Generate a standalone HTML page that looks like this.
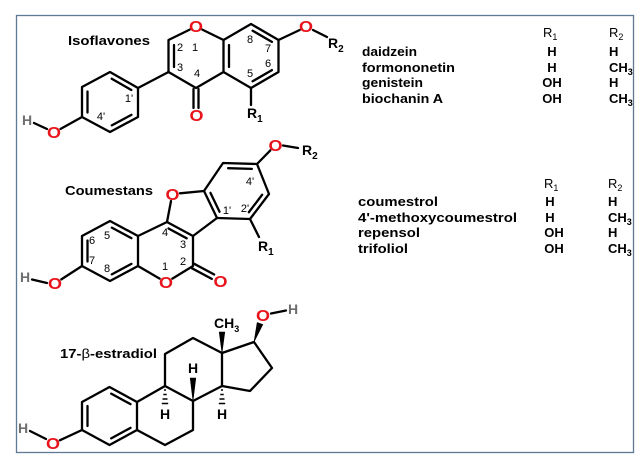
<!DOCTYPE html>
<html><head><meta charset="utf-8"><style>
html,body{margin:0;padding:0;background:#fff;}
svg{display:block;}
text{font-family:"Liberation Sans",Arial,sans-serif;}
.b{font-weight:bold;font-size:13px;}
.n{font-size:11px;text-anchor:middle;}
.O{fill:#e8141b;font-weight:bold;font-size:16px;text-anchor:middle;}
.A{font-weight:bold;font-size:14px;}
.Hg{fill:#6e6e6e;font-weight:bold;font-size:14px;text-anchor:middle;}
.Hs{font-weight:bold;font-size:14px;text-anchor:middle;}
</style></head><body>
<svg width="641" height="463" viewBox="0 0 641 463" xmlns="http://www.w3.org/2000/svg">
<rect width="641" height="463" fill="#fff"/>
<rect x="16.5" y="15.5" width="617" height="437" fill="none" stroke="#5f7a94" stroke-width="1.3"/>

<g stroke="#000" stroke-width="2.3" fill="none" stroke-linecap="round" stroke-linejoin="round">
<!-- Isoflavone -->
<path d="M189.7,29.6 L168.5,40 L168.5,72 L196,88 L223.5,72 L223.5,40 L202.3,29.6"/>
<path d="M168.5,72 L138,88"/>
<path d="M223.5,40 L251,24 L278.5,40 L278.5,72 L251,88 L223.5,72"/>
<path d="M174,45 L174,67"/>
<path d="M229,45 L229,67"/>
<path d="M252.6,30.7 L271.9,41.9"/>
<path d="M271.9,70.1 L252.6,81.3"/>
<path d="M278.5,40 L299.7,30"/>
<path d="M313,30 L327,37"/>
<path d="M193.5,89 L193.5,108 M198.5,89 L198.5,108"/>
<path d="M251,88 L251,105"/>
<path d="M110,72 L138,88 L138,117 L110,132 L82,117 L82,87 Z"/>
<path d="M111.7,78.75 L131.3,89.95"/>
<path d="M87.5,91.5 L87.5,112.5"/>
<path d="M131.4,114.85 L111.8,125.35"/>
<path d="M82,117 L60.6,128.9"/>
<path d="M34,123 L47,129"/>

<!-- Coumestan -->
<path d="M180,193.3 L204,191"/>
<path d="M171,201 L167,222"/>
<path d="M167,222 L193,236 L217,218 L204,191"/>
<path d="M193,236 L193,266 L172.4,278.6"/>
<path d="M159.6,278.6 L138,266 L138,236 L167,222"/>
<path d="M138,236 L110,221 L82,236 L82,266 L110,281 L138,266"/>
<path d="M82,266 L61.3,279.4"/>
<path d="M32,279.5 L47,283"/>
<path d="M204,191 L223,163 L257,164 L269,194 L250,219 L217,218"/>
<path d="M257,164 L270.3,150.4"/>
<path d="M283,145.5 L298,148"/>
<path d="M250,219 L259,237"/>
<path d="M168.5,228.5 L186.7,238.3"/>
<path d="M210.45,192.85 L219.55,211.75"/>
<path d="M228.1,168.2 L251.9,168.9"/>
<path d="M262.15,194.75 L248.85,212.25"/>
<path d="M111.8,227.65 L131.4,238.15"/>
<path d="M87.5,240.5 L87.5,261.5"/>
<path d="M111.8,274.35 L131.4,263.85"/>
<path d="M194.2,263.8 L214.2,274.5 M191.8,268.2 L211.8,278.9"/>

<!-- Estradiol -->
<path d="M109.5,387 L137,402 L137,430 L109.5,445 L82,430 L82,402 Z"/>
<path d="M111.2,393.65 L130.5,404.15"/>
<path d="M87.5,406 L87.5,426"/>
<path d="M111.2,438.35 L130.5,427.85"/>
<path d="M137,402 L165,386 L193,401 L193,430 L165,445 L137,430"/>
<path d="M165,386 L165,354 L193,338 L222,353 L222,386 L193,401"/>
<path d="M222,353 L254,342 L272,368 L250,391 L222,386"/>
<path d="M82,430 L59.8,440.3"/>
<path d="M30,431 L46,439"/>
<path d="M271,313.5 L286,310.5"/>
</g>

<!-- wedges -->
<g fill="#000" stroke="#000" stroke-width="0.6" stroke-linejoin="round">
<polygon points="222,353 219.2,332 224.8,332"/>
<polygon points="254,342 257.2,322.5 262.8,324.5"/>
<polygon points="193,401 190.2,378 195.8,378"/>
</g>
<g stroke="#000" stroke-width="1.5">
<path d="M164,390 L166,390 M163.3,394.5 L166.7,394.5 M162.5,399 L167.5,399 M161.8,403.5 L168.2,403.5"/>
<path d="M221,390 L223,390 M220.3,394.5 L223.7,394.5 M219.5,399 L224.5,399 M218.8,403.5 L225.2,403.5"/>
</g>

<!-- Titles -->
<text class="b" x="68" y="45" textLength="82" lengthAdjust="spacingAndGlyphs">Isoflavones</text>
<text class="b" x="65" y="195" textLength="88" lengthAdjust="spacingAndGlyphs">Coumestans</text>
<text class="b" x="60" y="358" textLength="97" lengthAdjust="spacingAndGlyphs">17-<tspan font-weight="normal">β</tspan>-estradiol</text>

<!-- Isoflavone atoms -->
<text class="O" x="196" y="32" textLength="14" lengthAdjust="spacingAndGlyphs">O</text>
<text class="O" x="306" y="32" textLength="14" lengthAdjust="spacingAndGlyphs">O</text>
<text class="O" x="196.5" y="121" textLength="14" lengthAdjust="spacingAndGlyphs">O</text>
<text class="O" x="54" y="138" textLength="14" lengthAdjust="spacingAndGlyphs">O</text>
<text class="Hg" x="27" y="125">H</text>
<text class="A" x="328" y="48">R<tspan font-size="10" dy="4">2</tspan></text>
<text class="A" x="247" y="118">R<tspan font-size="10" dy="4">1</tspan></text>
<text class="n" x="180" y="51">2</text>
<text class="n" x="195" y="51">1</text>
<text class="n" x="180" y="71">3</text>
<text class="n" x="197" y="77">4</text>
<text class="n" x="250" y="43">8</text>
<text class="n" x="268" y="52">7</text>
<text class="n" x="268" y="67">6</text>
<text class="n" x="250" y="77">5</text>
<text class="n" x="129" y="102">1'</text>
<text class="n" x="101" y="120">4'</text>

<!-- Coumestan atoms -->
<text class="O" x="172.5" y="200" textLength="14" lengthAdjust="spacingAndGlyphs">O</text>
<text class="O" x="166" y="288" textLength="14" lengthAdjust="spacingAndGlyphs">O</text>
<text class="O" x="220.5" y="287" textLength="14" lengthAdjust="spacingAndGlyphs">O</text>
<text class="O" x="55" y="289" textLength="14" lengthAdjust="spacingAndGlyphs">O</text>
<text class="O" x="275.5" y="151" textLength="14" lengthAdjust="spacingAndGlyphs">O</text>
<text class="Hg" x="25" y="282">H</text>
<text class="A" x="302" y="155">R<tspan font-size="10" dy="4">2</tspan></text>
<text class="A" x="258" y="251">R<tspan font-size="10" dy="4">1</tspan></text>
<text class="n" x="107" y="239">5</text>
<text class="n" x="92" y="244">6</text>
<text class="n" x="92" y="264">7</text>
<text class="n" x="107" y="272">8</text>
<text class="n" x="165" y="236">4</text>
<text class="n" x="183" y="248">3</text>
<text class="n" x="183" y="265">2</text>
<text class="n" x="165" y="270">1</text>
<text class="n" x="227" y="214">1'</text>
<text class="n" x="245" y="212">2'</text>
<text class="n" x="250" y="185">4'</text>

<!-- Estradiol atoms -->
<text class="O" x="53" y="449" textLength="14" lengthAdjust="spacingAndGlyphs">O</text>
<text class="Hg" x="23" y="433">H</text>
<text class="O" x="263" y="321" textLength="14" lengthAdjust="spacingAndGlyphs">O</text>
<text class="Hg" x="293" y="314">H</text>
<text class="A" x="214" y="328" font-size="13">CH<tspan font-size="9" dy="4">3</tspan></text>
<text class="Hs" x="193" y="373">H</text>
<text class="Hs" x="165" y="419">H</text>
<text class="Hs" x="222" y="419">H</text>

<!-- Table 1 -->
<text class="b" x="362" y="56" textLength="55" lengthAdjust="spacingAndGlyphs">daidzein</text>
<text class="b" x="362" y="72" textLength="93" lengthAdjust="spacingAndGlyphs">formononetin</text>
<text class="b" x="362" y="87" textLength="61" lengthAdjust="spacingAndGlyphs">genistein</text>
<text class="b" x="362" y="103" textLength="81" lengthAdjust="spacingAndGlyphs">biochanin A</text>
<text x="543" y="37" font-size="13">R<tspan font-size="9" dy="3">1</tspan></text>
<text x="609" y="37" font-size="13">R<tspan font-size="9" dy="3">2</tspan></text>
<text class="b" x="552" y="56" text-anchor="middle">H</text>
<text class="b" x="552" y="72" text-anchor="middle">H</text>
<text class="b" x="552" y="87" text-anchor="middle">OH</text>
<text class="b" x="552" y="103" text-anchor="middle">OH</text>
<text class="b" x="609" y="56">H</text>
<text class="b" x="609" y="72">CH<tspan font-size="9" dy="3">3</tspan></text>
<text class="b" x="609" y="87">H</text>
<text class="b" x="609" y="103">CH<tspan font-size="9" dy="3">3</tspan></text>

<!-- Table 2 -->
<text class="b" x="358" y="206" textLength="80" lengthAdjust="spacingAndGlyphs">coumestrol</text>
<text class="b" x="358" y="222" textLength="159" lengthAdjust="spacingAndGlyphs">4'-methoxycoumestrol</text>
<text class="b" x="358" y="237" textLength="62" lengthAdjust="spacingAndGlyphs">repensol</text>
<text class="b" x="358" y="253" textLength="50" lengthAdjust="spacingAndGlyphs">trifoliol</text>
<text x="544" y="188" font-size="13">R<tspan font-size="9" dy="3">1</tspan></text>
<text x="608" y="188" font-size="13">R<tspan font-size="9" dy="3">2</tspan></text>
<text class="b" x="550" y="206" text-anchor="middle">H</text>
<text class="b" x="550" y="222" text-anchor="middle">H</text>
<text class="b" x="554" y="237" text-anchor="middle">OH</text>
<text class="b" x="554" y="253" text-anchor="middle">OH</text>
<text class="b" x="608" y="206">H</text>
<text class="b" x="608" y="222">CH<tspan font-size="9" dy="3">3</tspan></text>
<text class="b" x="608" y="237">H</text>
<text class="b" x="608" y="253">CH<tspan font-size="9" dy="3">3</tspan></text>
</svg>
</body></html>
